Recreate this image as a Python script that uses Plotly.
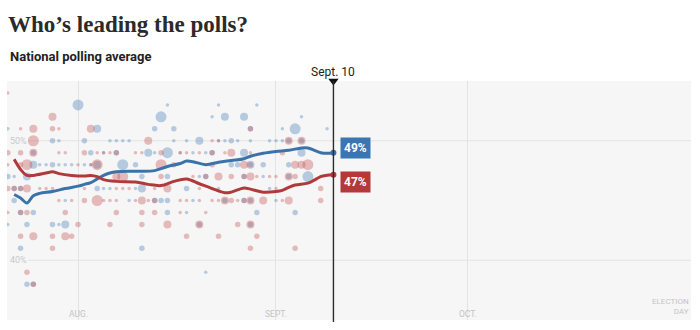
import plotly.graph_objects as go
import pandas as pd

# ---------------- data ----------------
harris_avg_dates = ["2024-07-22", "2024-07-23", "2024-07-24", "2024-07-25", "2024-07-26", "2024-07-28",
                    "2024-07-30", "2024-08-01", "2024-08-02", "2024-08-03", "2024-08-04", "2024-08-05",
                    "2024-08-06", "2024-08-07", "2024-08-10", "2024-08-13", "2024-08-15", "2024-08-17",
                    "2024-08-18", "2024-08-19", "2024-08-21", "2024-08-23", "2024-08-25", "2024-08-27",
                    "2024-08-28", "2024-08-30", "2024-09-01", "2024-09-03", "2024-09-05", "2024-09-06",
                    "2024-09-07", "2024-09-08", "2024-09-09", "2024-09-10"]
harris_avg_values = [45.5, 45.2, 44.8, 45.4, 45.6, 45.75,
                     46.0, 46.2, 46.35, 46.5, 46.8, 47.1,
                     47.3, 47.4, 47.45, 47.5, 47.85, 48.1,
                     48.3, 48.25, 48.0, 48.2, 48.35, 48.5,
                     48.7, 48.95, 49.1, 49.2, 49.4, 49.4,
                     49.2, 49.0, 48.95, 49.0]

trump_avg_dates = ["2024-07-22", "2024-07-23", "2024-07-24", "2024-07-25", "2024-07-27", "2024-07-28",
                   "2024-07-29", "2024-07-31", "2024-08-02", "2024-08-03", "2024-08-04", "2024-08-05",
                   "2024-08-07", "2024-08-10", "2024-08-12", "2024-08-14", "2024-08-16", "2024-08-18",
                   "2024-08-20", "2024-08-22", "2024-08-24", "2024-08-25", "2024-08-27", "2024-08-28",
                   "2024-08-30", "2024-09-01", "2024-09-02", "2024-09-03", "2024-09-04", "2024-09-06",
                   "2024-09-07", "2024-09-08", "2024-09-10"]
trump_avg_values = [48.45, 47.6, 47.1, 47.1, 47.3, 47.4,
                    47.25, 47.1, 47.05, 47.1, 47.0, 46.75,
                    46.6, 46.55, 46.35, 46.25, 46.6, 46.8,
                    46.4, 46.0, 45.65, 45.7, 46.05, 45.95,
                    45.7, 45.75, 45.85, 46.1, 46.3, 46.45,
                    46.7, 47.0, 47.15]

# individual polls: (date, share %, poll weight 1-4)
harris_polls = [
    ("2024-07-21", 47, 2), ("2024-07-21", 51, 1), ("2024-07-21", 43, 1),
    ("2024-07-22", 46, 2), ("2024-07-22", 45, 2), ("2024-07-22", 47, 1),
    ("2024-07-23", 46, 2), ("2024-07-23", 44, 2), ("2024-07-23", 41, 2),
    ("2024-07-24", 47, 3), ("2024-07-24", 43, 2), ("2024-07-24", 38, 2),
    ("2024-07-25", 49, 2), ("2024-07-25", 48, 3), ("2024-07-25", 44, 2), ("2024-07-25", 38, 2),
    ("2024-07-26", 48, 1), ("2024-07-27", 48, 1),
    ("2024-07-28", 50, 2), ("2024-07-28", 48, 2), ("2024-07-28", 43, 2),
    ("2024-07-29", 50, 1), ("2024-07-29", 48, 1), ("2024-07-29", 43, 1),
    ("2024-07-30", 48, 1), ("2024-07-30", 43, 3), ("2024-07-30", 45, 1),
    ("2024-07-31", 48, 1),
    ("2024-08-01", 53, 4),
    ("2024-08-02", 50, 2), ("2024-08-02", 48, 1),
    ("2024-08-03", 49, 2), ("2024-08-03", 48, 1),
    ("2024-08-04", 51, 3), ("2024-08-04", 48, 3), ("2024-08-04", 46, 2),
    ("2024-08-05", 46, 1), ("2024-08-05", 49, 1),
    ("2024-08-06", 50, 1), ("2024-08-06", 46, 1),
    ("2024-08-07", 49, 2), ("2024-08-07", 50, 1),
    ("2024-08-08", 48, 4), ("2024-08-08", 50, 1),
    ("2024-08-09", 50, 1), ("2024-08-09", 45, 1),
    ("2024-08-10", 48, 2), ("2024-08-10", 46, 1),
    ("2024-08-11", 47, 2), ("2024-08-11", 46, 3), ("2024-08-11", 41, 2),
    ("2024-08-12", 49, 3),
    ("2024-08-13", 51, 2), ("2024-08-13", 45, 2), ("2024-08-13", 49, 1),
    ("2024-08-14", 52, 4), ("2024-08-14", 45, 2),
    ("2024-08-15", 49, 4), ("2024-08-15", 47, 2), ("2024-08-15", 45, 2), ("2024-08-15", 44, 2), ("2024-08-15", 53, 1),
    ("2024-08-16", 51, 2), ("2024-08-16", 50, 1),
    ("2024-08-17", 49, 1),
    ("2024-08-18", 46, 2), ("2024-08-18", 50, 1), ("2024-08-18", 44, 1),
    ("2024-08-19", 49, 1), ("2024-08-19", 45, 1),
    ("2024-08-20", 50, 3), ("2024-08-20", 43, 2), ("2024-08-20", 47, 1),
    ("2024-08-21", 47, 2), ("2024-08-21", 49, 1), ("2024-08-21", 39, 1),
    ("2024-08-22", 49, 2), ("2024-08-22", 52, 1), ("2024-08-22", 46, 1),
    ("2024-08-23", 50, 1), ("2024-08-23", 46, 1), ("2024-08-23", 53, 1),
    ("2024-08-24", 52, 3), ("2024-08-24", 45, 2), ("2024-08-24", 50, 1),
    ("2024-08-25", 50, 2), ("2024-08-25", 48, 2),
    ("2024-08-26", 48, 2), ("2024-08-26", 50, 1),
    ("2024-08-27", 52, 3), ("2024-08-27", 49, 3), ("2024-08-27", 47, 2), ("2024-08-27", 45, 2),
    ("2024-08-28", 51, 2), ("2024-08-28", 48, 3), ("2024-08-28", 45, 2), ("2024-08-28", 43, 2), ("2024-08-28", 50, 1),
    ("2024-08-29", 44, 2), ("2024-08-29", 53, 1),
    ("2024-08-30", 48, 2), ("2024-08-30", 47, 1),
    ("2024-08-31", 50, 1), ("2024-08-31", 46, 1),
    ("2024-09-01", 50, 1), ("2024-09-01", 45, 1),
    ("2024-09-02", 51, 1), ("2024-09-02", 50, 1),
    ("2024-09-03", 50, 2), ("2024-09-03", 48, 2), ("2024-09-03", 47, 2),
    ("2024-09-04", 51, 4), ("2024-09-04", 44, 2),
    ("2024-09-05", 50, 2), ("2024-09-05", 49, 3), ("2024-09-05", 52, 1),
    ("2024-09-06", 47, 4),
    ("2024-09-09", 51, 1),
]

trump_polls = [
    ("2024-07-21", 54, 1), ("2024-07-21", 49, 2), ("2024-07-21", 46, 2), ("2024-07-21", 48, 1), ("2024-07-21", 44, 1),
    ("2024-07-22", 46, 2),
    ("2024-07-23", 51, 1), ("2024-07-23", 49, 2), ("2024-07-23", 48, 2), ("2024-07-23", 46, 2),
    ("2024-07-23", 44, 2), ("2024-07-23", 42, 2),
    ("2024-07-24", 48, 4), ("2024-07-24", 46, 3), ("2024-07-24", 44, 2), ("2024-07-24", 39, 2),
    ("2024-07-25", 51, 3), ("2024-07-25", 50, 4), ("2024-07-25", 49, 3), ("2024-07-25", 42, 3), ("2024-07-25", 38, 2),
    ("2024-07-26", 46, 1), ("2024-07-27", 46, 1),
    ("2024-07-28", 52, 3), ("2024-07-28", 51, 2), ("2024-07-28", 42, 2), ("2024-07-28", 41, 2), ("2024-07-28", 46, 1),
    ("2024-07-29", 51, 1), ("2024-07-29", 49, 1), ("2024-07-29", 45, 1),
    ("2024-07-30", 49, 1), ("2024-07-30", 44, 2), ("2024-07-30", 42, 3),
    ("2024-07-31", 45, 1), ("2024-07-31", 42, 2),
    ("2024-08-01", 43, 2), ("2024-08-01", 48, 1),
    ("2024-08-02", 49, 2), ("2024-08-02", 45, 2), ("2024-08-02", 46, 1),
    ("2024-08-03", 51, 3), ("2024-08-03", 48, 1),
    ("2024-08-04", 48, 4), ("2024-08-04", 45, 4), ("2024-08-04", 49, 1),
    ("2024-08-05", 45, 1), ("2024-08-05", 49, 1),
    ("2024-08-06", 49, 1), ("2024-08-06", 45, 1), ("2024-08-06", 43, 2),
    ("2024-08-07", 49, 2), ("2024-08-07", 47, 3), ("2024-08-07", 44, 2), ("2024-08-07", 46, 1), ("2024-08-07", 45, 1),
    ("2024-08-08", 47, 4), ("2024-08-08", 46, 1),
    ("2024-08-09", 46, 1),
    ("2024-08-10", 49, 1), ("2024-08-10", 45, 1),
    ("2024-08-11", 45, 3), ("2024-08-11", 44, 2), ("2024-08-11", 43, 2), ("2024-08-11", 49, 1),
    ("2024-08-12", 50, 3), ("2024-08-12", 45, 1),
    ("2024-08-13", 45, 2), ("2024-08-13", 44, 2), ("2024-08-13", 46, 1),
    ("2024-08-14", 49, 2), ("2024-08-14", 48, 4), ("2024-08-14", 47, 2),
    ("2024-08-15", 46, 3), ("2024-08-15", 43, 3),
    ("2024-08-16", 48, 2),
    ("2024-08-17", 45, 1), ("2024-08-17", 44, 1), ("2024-08-17", 49, 1),
    ("2024-08-18", 42, 2), ("2024-08-18", 49, 1), ("2024-08-18", 45, 1),
    ("2024-08-19", 47, 1),
    ("2024-08-20", 43, 3), ("2024-08-20", 49, 1), ("2024-08-20", 46, 1), ("2024-08-20", 45, 1),
    ("2024-08-21", 47, 2), ("2024-08-21", 44, 1),
    ("2024-08-22", 49, 2), ("2024-08-22", 48, 2), ("2024-08-22", 50, 1), ("2024-08-22", 45, 1),
    ("2024-08-23", 47, 3), ("2024-08-23", 42, 2), ("2024-08-23", 45, 1), ("2024-08-23", 50, 1),
    ("2024-08-24", 45, 3), ("2024-08-24", 49, 1),
    ("2024-08-25", 49, 3), ("2024-08-25", 47, 2), ("2024-08-25", 45, 2),
    ("2024-08-26", 43, 2), ("2024-08-26", 45, 1),
    ("2024-08-27", 48, 3), ("2024-08-27", 47, 2), ("2024-08-27", 45, 2),
    ("2024-08-28", 51, 2), ("2024-08-28", 48, 2), ("2024-08-28", 47, 3), ("2024-08-28", 45, 3),
    ("2024-08-28", 43, 3), ("2024-08-28", 41, 2), ("2024-08-28", 49, 1),
    ("2024-08-29", 42, 2), ("2024-08-29", 47, 1),
    ("2024-08-30", 45, 3),
    ("2024-08-31", 47, 1),
    ("2024-09-01", 47, 1), ("2024-09-01", 46, 1),
    ("2024-09-02", 49, 2), ("2024-09-02", 45, 1),
    ("2024-09-03", 50, 3), ("2024-09-03", 47, 3), ("2024-09-03", 45, 3),
    ("2024-09-04", 48, 3), ("2024-09-04", 47, 2), ("2024-09-04", 41, 2),
    ("2024-09-05", 50, 3), ("2024-09-05", 48, 3),
    ("2024-09-06", 48, 4),
    ("2024-09-08", 46, 2), ("2024-09-08", 45, 2), ("2024-09-08", 47, 1),
]

month_tick_dates = ["2024-08-01", "2024-09-01", "2024-10-01"]
month_tick_labels = ["AUG.", "SEPT.", "OCT."]
election_day = "2024-11-05"
current_date = "2024-09-10"
current_label = "Sept. 10"
pct_ticks = [50, 40]

# ---------------- styling / geometry ----------------
W, H = 700, 330
ML, MR, MT, MB = 7, 9, 81, 10
PW, PH = W - ML - MR, H - MT - MB

BLUE_LINE = "#3b72aa"
RED_LINE = "#b03a3b"
BLUE_DOT = "rgba(78,132,188,0.55)"
RED_DOT = "rgba(198,88,90,0.55)"
SIZE = {1: 3.5, 2: 5.5, 3: 8, 4: 11}
FONT = "Roboto, Liberation Sans, Arial, sans-serif"


def px_x(p):
    return (p - ML) / PW


def px_y(p):
    return (H - MB - p) / PH


def poll_trace(polls, color):
    df = pd.DataFrame(polls, columns=["date", "value", "weight"])
    return go.Scatter(
        x=pd.to_datetime(df["date"]), y=df["value"], mode="markers",
        marker=dict(size=df["weight"].map(SIZE), color=color, line_width=0),
        hoverinfo="skip", showlegend=False,
    )


fig = go.Figure()
fig.add_trace(poll_trace(harris_polls, BLUE_DOT))
fig.add_trace(poll_trace(trump_polls, RED_DOT))

for dates, vals, col in [(harris_avg_dates, harris_avg_values, BLUE_LINE),
                         (trump_avg_dates, trump_avg_values, RED_LINE)]:
    fig.add_trace(go.Scatter(
        x=pd.to_datetime(dates), y=vals, mode="lines",
        line=dict(color=col, width=3, shape="spline", smoothing=1.0),
        hoverinfo="skip", showlegend=False,
    ))
    fig.add_trace(go.Scatter(
        x=[pd.to_datetime(dates[-1])], y=[vals[-1]], mode="markers",
        marker=dict(size=6, color=col, line=dict(width=0)),
        hoverinfo="skip", showlegend=False,
    ))

x0 = pd.Timestamp("2024-07-20 21:00")
x1 = pd.Timestamp(election_day)
cur = pd.Timestamp(current_date)

# current-date marker line and triangle
fig.add_shape(type="line", xref="x", yref="paper", x0=cur, x1=cur, y0=1, y1=px_y(322),
              line=dict(color="#2b2b2b", width=1.4))
fig.add_trace(go.Scatter(x=[cur], y=[55], mode="markers", cliponaxis=False,
                         marker=dict(symbol="triangle-down", size=9, color="#111"),
                         hoverinfo="skip", showlegend=False))

annotations = []
for v in pct_ticks:
    fig.add_shape(type="line", xref="paper", yref="y", x0=px_x(28), x1=1, y0=v, y1=v,
                  line=dict(color="#e3e3e3", width=1), layer="below")
    annotations.append(dict(xref="paper", yref="y", x=px_x(8), y=v, text=f"{v}%",
                            showarrow=False, xanchor="left", yanchor="middle",
                            font=dict(family=FONT, size=9, color="#c9c9c9")))

for d, lab in zip(month_tick_dates, month_tick_labels):
    annotations.append(dict(xref="x", yref="paper", x=pd.Timestamp(d), y=px_y(314), text=lab,
                            showarrow=False, xanchor="center", yanchor="middle",
                            font=dict(family=FONT, size=8.5, color="#c4c4c4")))
annotations.append(dict(xref="paper", yref="paper", x=px_x(691), y=px_y(318),
                        text="ELECTION<br>DAY", showarrow=False, xanchor="right", yanchor="bottom",
                        align="right", font=dict(family=FONT, size=8, color="#c4c4c4")))

# end labels
lab_x = cur + pd.Timedelta(days=1.1)
annotations.append(dict(xref="x", yref="paper", x=lab_x, y=px_y(147.5),
                        text=f"<b>{round(harris_avg_values[-1])}%</b>", showarrow=False,
                        xanchor="left", yanchor="middle", bgcolor="#3a76b3", borderpad=3,
                        font=dict(family=FONT, size=12, color="white")))
annotations.append(dict(xref="x", yref="paper", x=lab_x, y=px_y(181.5),
                        text=f"<b>{round(trump_avg_values[-1])}%</b>", showarrow=False,
                        xanchor="left", yanchor="middle", bgcolor="#b3393b", borderpad=3,
                        font=dict(family=FONT, size=12, color="white")))

# header texts
annotations.append(dict(xref="x", yref="paper", x=cur, y=px_y(72), text=current_label,
                        showarrow=False, xanchor="center", yanchor="middle",
                        font=dict(family=FONT, size=12, color="#222")))
annotations.append(dict(xref="paper", yref="paper", x=px_x(8), y=px_y(57),
                        text="<b>National polling average</b>", showarrow=False,
                        xanchor="left", yanchor="middle",
                        font=dict(family=FONT, size=13, color="#222")))

fig.update_layout(
    width=W, height=H,
    margin=dict(l=ML, r=MR, t=MT, b=MB, pad=0),
    paper_bgcolor="white", plot_bgcolor="#f6f6f6",
    title=dict(text="<b>Who’s leading the polls?</b>", xref="container", yref="container",
               x=8 / W, y=1 - 24 / H, xanchor="left", yanchor="middle",
               font=dict(family="Liberation Serif, DejaVu Serif, serif", size=23, color="#2a2a2a")),
    xaxis=dict(type="date", range=[x0, x1], showgrid=True, gridcolor="#e3e3e3", gridwidth=1,
               tickvals=pd.to_datetime(month_tick_dates), showticklabels=False, ticks="",
               zeroline=False, showline=False, fixedrange=True),
    yaxis=dict(range=[35, 55], showgrid=False, showticklabels=False, ticks="",
               zeroline=False, showline=False, fixedrange=True),
    annotations=annotations,
    showlegend=False,
)

fig.write_html("out.html")
